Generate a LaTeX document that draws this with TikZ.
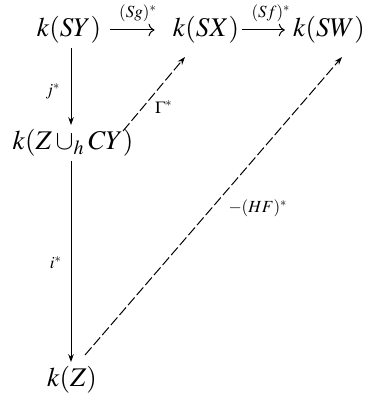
\documentclass[tikz,border=0pt]{standalone}
\usepackage{mathptmx}
\usetikzlibrary{arrows.meta}
\begin{document}
\begin{tikzpicture}[x=0.5pt,y=-0.5pt,
  obj/.style={inner sep=0pt, font=\fontsize{13.5}{16}\selectfont},
  lab/.style={inner sep=0pt, font=\fontsize{8.5}{10}\selectfont},
  arr/.style={line width=0.5pt, -{Stealth[length=4pt,width=2.8pt]}},
  darr/.style={arr, dash pattern=on 5pt off 1.6pt}]
\useasboundingbox (0,0) rectangle (372,394);
\node[obj] (SY) at (69,30) {$k(SY)$};
\node[obj] (SX) at (206,30) {$k(SX)$};
\node[obj] (SW) at (329,30) {$k(SW)$};
\node[obj] (ZCY) at (73,143) {$k(Z\cup_h CY)$};
\node[obj] (Z) at (72,380) {$k(Z)$};
\coordinate (g1) at (123,131);
\coordinate (g2) at (185,57);
\coordinate (h1) at (85,355);
\coordinate (h2) at (342,57);
\draw[arr, -{To[length=3pt]}, shorten <=4pt, shorten >=9pt] (SY.east) -- (SX.west);
\draw[arr, -{To[length=3pt]}, shorten <=1.5pt, shorten >=4pt] (SX.east) -- (SW.west);
\draw[arr, shorten <=2pt, shorten >=2pt] (SY.south -| 71,0) -- (ZCY.north -| 71,0);
\draw[arr, shorten <=2pt, shorten >=2pt] (ZCY.south -| 71,0) -- (Z.north -| 71,0);
\draw[darr] (g1) -- (g2);
\draw[darr] (h1) -- (h2);
\node[lab] (lSg) at (138,13) {$(Sg)^*$};
\node[lab] (lSf) at (271,13) {$(Sf)^*$};
\node[lab] (lj) at (53,91) {$j^*$};
\node[lab] (lG) at (164,107) {$\Gamma^*$};
\node[lab] (lHF) at (258,208) {$-(HF)^*$};
\node[lab] (li) at (56,263) {$i^*$};
\end{tikzpicture}
\end{document}
